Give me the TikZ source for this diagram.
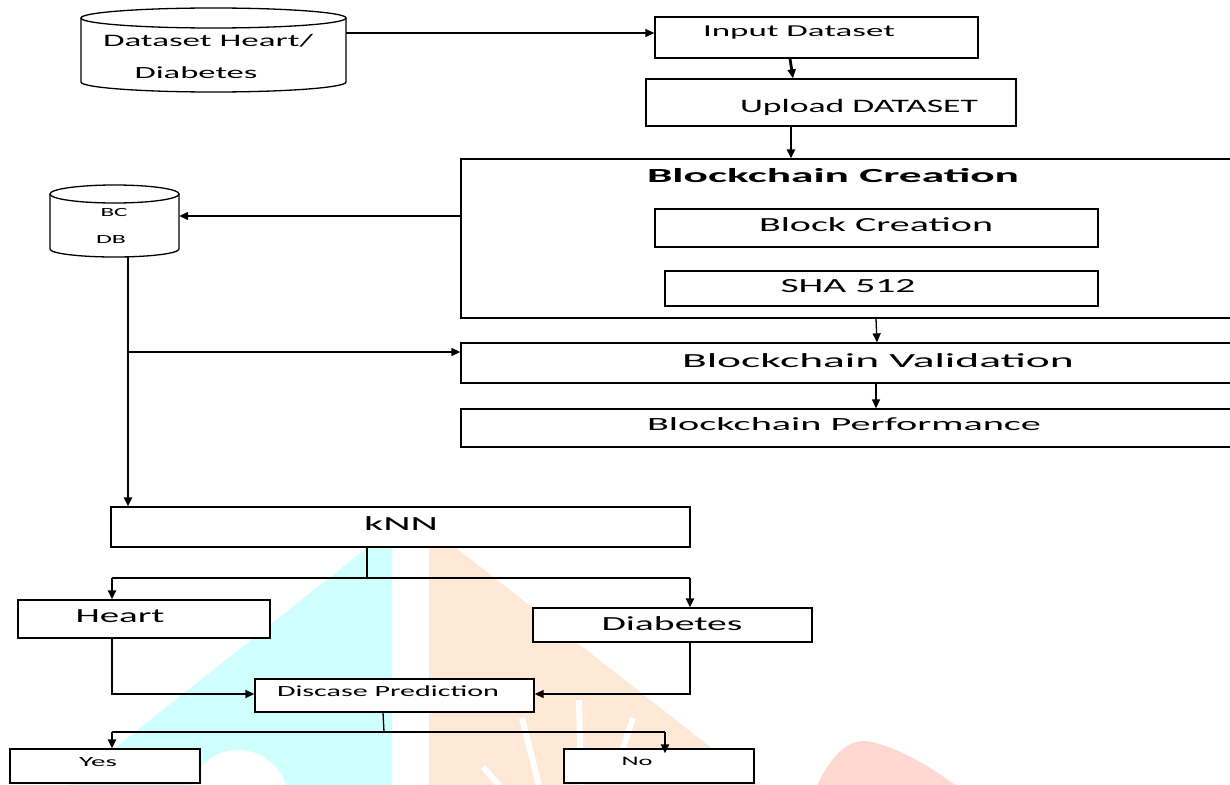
\documentclass[tikz,border=0pt]{standalone}
\usepackage{fontspec}
\setmainfont{Carlito}
\usetikzlibrary{arrows.meta}
\definecolor{wmcyan}{RGB}{207,255,255}
\definecolor{wmorange}{RGB}{255,232,214}
\definecolor{wmpink}{RGB}{255,216,210}
\newsavebox\tbox
\newcommand\fitw[3]{\sbox\tbox{\fontsize{#1pt}{#1pt}\selectfont #3}\pgfmathsetmacro\sxf{#2/\the\wd\tbox}\scalebox{\sxf}[1]{\usebox\tbox}}
\begin{document}
\begin{tikzpicture}[x=1pt,y=-1pt,
  box/.style={draw=black, fill=white, line width=1.3pt, inner sep=0pt, rectangle},
  ghost/.style={draw=none, inner sep=0pt, rectangle},
  txt/.style={anchor=base, inner sep=0pt},
  ln/.style={draw=black, line width=1.3pt},
  thk/.style={draw=black, line width=2.8pt},
  arr/.style={-{Triangle[length=9pt,width=8pt]}},
  cyl/.style={draw=black, fill=white, line width=1.3pt}]
\useasboundingbox (0,0) rectangle (1230,784);
\clip (0,0) rectangle (1230,784);
% watermark
\fill[wmcyan] (392,528) -- (392,790) -- (62,790) -- cycle;
\fill[white] (238,800) circle[radius=50];
\fill[wmorange] (429,532) -- (436,532) -- (765,790) -- (429,790) -- cycle;
\draw[white, line width=6pt] (522,718) -- (540,790);
\draw[white, line width=6pt] (579,700) -- (581,790);
\draw[white, line width=6pt] (633,718) -- (620,757);
\draw[white, line width=6pt] (483,767) -- (503,790);
\fill[wmpink] (815,790) .. controls (835,745) and (855,738) .. (872,742) .. controls (905,750) and (935,770) .. (962,790) -- cycle;
% cylinders
\draw[cyl] (81,18) -- (81,82) arc[start angle=180, end angle=0, x radius=132.5, y radius=10] -- (346,18);
\draw[cyl] (213.5,18) ellipse[x radius=132.5, y radius=10];
\draw[cyl] (50,194) -- (50,249) arc[start angle=180, end angle=0, x radius=64.5, y radius=8] -- (179,194);
\draw[cyl] (114.5,194) ellipse[x radius=64.5, y radius=9];
\node[ghost, minimum width=265pt, minimum height=60pt] (cyl1) at (213.5,33) {};
\node[ghost, minimum width=129pt, minimum height=56pt] (bcdb) at (114.5,216) {};
% boxes
\node[box, minimum width=323pt, minimum height=41pt] (input) at (816.5,37.5) {};
\node[box, minimum width=370pt, minimum height=47pt] (upload) at (831,102.5) {};
\node[box, minimum width=784pt, minimum height=159pt] (bcreate) at (853,238.5) {};
\node[box, minimum width=443pt, minimum height=38pt] (block) at (876.5,228) {};
\node[box, minimum width=433pt, minimum height=35pt] (sha) at (881.5,288.5) {};
\node[box, minimum width=784pt, minimum height=40pt] (bval) at (853,363) {};
\node[box, minimum width=784pt, minimum height=38pt] (bperf) at (853,428) {};
\node[box, minimum width=579pt, minimum height=40pt] (knn) at (400.5,527) {};
\node[box, minimum width=252pt, minimum height=38pt] (heart) at (144,619) {};
\node[box, minimum width=279pt, minimum height=34pt] (diab) at (672.5,625) {};
\node[box, minimum width=279pt, minimum height=33pt] (dp) at (394.5,695.5) {};
\node[box, minimum width=190pt, minimum height=34pt] (yes) at (105,766) {};
\node[box, minimum width=190pt, minimum height=34pt] (no) at (659,766) {};
% texts
\node[txt] (t1) at (208,46) {\fitw{17.5}{210}{Dataset Heart/}};
\node[txt] (t2) at (196,78) {\fitw{17}{123}{Diabetes}};
\node[txt] (t3) at (114,216) {\fitw{12.4}{27}{BC}};
\node[txt] (t4) at (111,243) {\fitw{12.4}{30}{DB}};
\node[txt] (t5) at (799,37) {\fitw{16.6}{192}{Input Dataset}};
\node[txt] (t6) at (859,112) {\fitw{19}{238}{Upload DATASET}};
\node[txt] (t7) at (833,182) {\fitw{20}{372}{\bfseries Blockchain Creation}};
\node[txt] (t8) at (876,231) {\fitw{20}{234}{Block Creation}};
\node[txt] (t9) at (848,292) {\fitw{20}{135}{SHA 512}};
\node[txt] (t10) at (878,367) {\fitw{20}{392}{Blockchain Validation}};
\node[txt] (t11) at (844,430) {\fitw{18.6}{394}{Blockchain Performance}};
\node[txt] (t12) at (401,530) {\fitw{20}{74}{kNN}};
\node[txt] (t13) at (120,622) {\fitw{20}{89}{Heart}};
\node[txt] (t14) at (672,630) {\fitw{20}{141}{Diabetes}};
\node[txt] (t15) at (388,696) {\fitw{15.5}{222}{Discase Prediction}};
\node[txt] (t16) at (98,766) {\fitw{14}{38}{Yes}};
\node[txt] (t17) at (637,765) {\fitw{13}{31}{No}};
% connectors
\draw[ln, arr] (cyl1.east) -- (cyl1.east -| input.west);
\draw[thk, arr] ([xshift=-26.5pt]input.south) -- ([xshift=-38pt]upload.north);
\draw[thk, arr] ([xshift=-40pt]upload.south) -- ([xshift=-62pt]bcreate.north);
\draw[ln, arr] (bcreate.west |- bcdb.east) -- (bcdb.east);
\coordinate (dbo) at (128,257);
\draw[thk, arr] (dbo) -- (dbo |- knn.north);
\coordinate (br) at (128,352);
\draw[ln, arr] (br) -- (br -| bval.west);
\draw[ln, arr] ([xshift=23pt]bcreate.south) -- ([xshift=24pt]bval.north);
\draw[ln, arr] ([xshift=23pt]bval.south) -- ([xshift=23pt]bperf.north);
\coordinate (kj) at (367,578);
\coordinate (hk) at (112,578);
\coordinate (dk) at (690,578);
\draw[ln] (kj |- knn.south) -- (kj);
\draw[ln] (hk) -- (dk);
\draw[thk, arr] (hk) -- (hk |- heart.north);
\draw[thk, arr] (dk) -- (dk |- diab.north);
\coordinate (hb) at (112,694);
\coordinate (db) at (690,694);
\draw[ln, arr] (hb |- heart.south) -- (hb) -- (hb -| dp.west);
\draw[ln, arr] (db |- diab.south) -- (db) -- (db -| dp.east);
\coordinate (pj) at (384,732);
\coordinate (yj) at (112,732);
\coordinate (nj) at (665,732);
\draw[ln] ([xshift=-11.5pt]dp.south) -- (pj);
\draw[ln] (yj) -- (nj);
\draw[thk, arr] (yj) -- (yj |- yes.north);
\draw[thk, arr] (nj) -- ([yshift=-5pt]nj |- no.north);
\end{tikzpicture}
\end{document}
